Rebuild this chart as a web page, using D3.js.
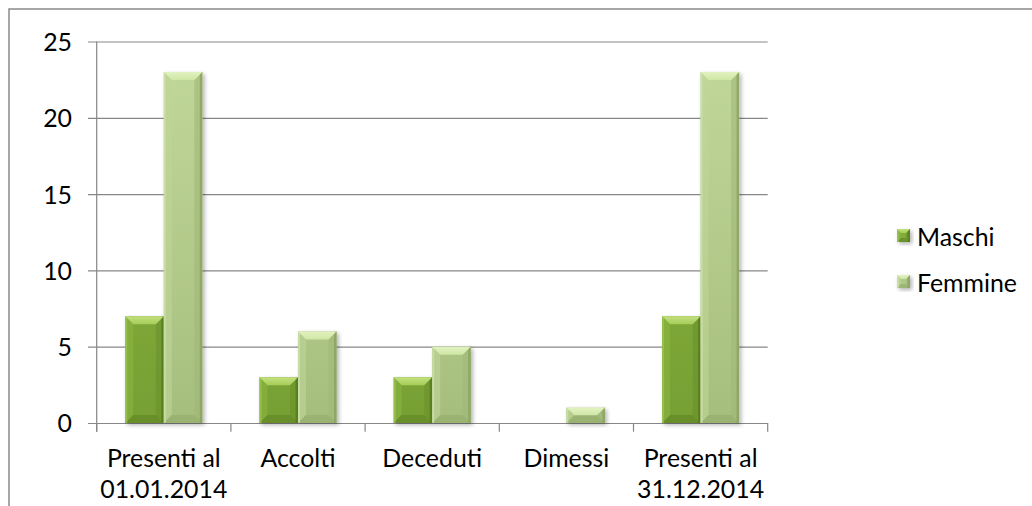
<!DOCTYPE html>
<html>
<head>
<meta charset="utf-8">
<script src="https://cdn.jsdelivr.net/npm/d3@7"></script>
<style>
  html, body { margin: 0; padding: 0; background: #fff; }
  svg { display: block; }
  text { font-family: Lato, "Open Sans", sans-serif; fill: #000; }
</style>
</head>
<body>
<svg id="chart" width="1032" height="506"></svg>
<script>
// ---- data ----
const categories = [["Presenti al", "01.01.2014"], ["Accolti"], ["Deceduti"], ["Dimessi"], ["Presenti al", "31.12.2014"]];
const seriesNames = ["Maschi", "Femmine"];
const maschi = [7, 3, 3, 0, 7];
const femmine = [23, 6, 5, 1, 23];
const yTicks = [0, 5, 10, 15, 20, 25];

const palettes = {
  Maschi:  { faceTop: "#8cb842", faceBot: "#76a033", top1: "#a6cd58", top2: "#c3e07f", bottom: "#628728",
             left: "#8ab540", right: "#6b912d", edgeL: "#9cc652", edgeR: "#577d1f" },
  Femmine: { faceTop: "#c1d89b", faceBot: "#a6be7d", top1: "#cfe6a6", top2: "#e2f2c0", bottom: "#95ae6d",
             left: "#bfd699", right: "#a0b878", edgeL: "#cde3aa", edgeR: "#8aa262" }
};

const svg = d3.select("#chart");

// font size fitted to the reference text width ("Femmine" ~ 100px)
const probe = svg.append("text").attr("font-size", 100).text("Femmine");
const fs = 100 * 100 / probe.node().getComputedTextLength();
probe.remove();

// outer chart border
svg.append("rect").attr("x", 9).attr("y", 9).attr("width", 1060).attr("height", 540)
  .attr("fill", "none").attr("stroke", "#898989").attr("stroke-width", 1.5);

const plotL = 96.7, plotR = 767.7, plotT = 41.5, plotB = 423;

const y = d3.scaleLinear().domain([0, 25]).range([plotB, plotT]);
const x0 = d3.scaleBand().domain(d3.range(categories.length)).range([plotL, plotR]).padding(0);
const x1 = d3.scaleBand().domain(seriesNames).range([0, x0.bandwidth()]).paddingInner(0).paddingOuter(0.743);

// gridlines + y ticks
const yAxis = d3.axisLeft(y).tickValues(yTicks).tickSize(plotR - plotL + 8.7).tickFormat(d3.format("d")).tickPadding(16);
const gy = svg.append("g").attr("transform", `translate(${plotR},0)`).call(yAxis);
gy.select(".domain").remove();
gy.selectAll(".tick line").attr("stroke", "#878787").attr("stroke-width", 1.2);
gy.selectAll(".tick text").attr("font-size", fs).attr("font-family", "Lato").attr("fill", "#000")
  .attr("dy", "0.36em");

// y axis line
svg.append("line").attr("x1", plotL).attr("x2", plotL).attr("y1", plotT).attr("y2", plotB + 8.7)
  .attr("stroke", "#878787").attr("stroke-width", 1.2);

// x axis category boundary ticks
const bounds = d3.range(categories.length + 1).map(i => i === categories.length ? plotR : x0(i));
svg.append("g").selectAll("line").data(bounds).join("line")
  .attr("x1", d => d).attr("x2", d => d).attr("y1", plotB).attr("y2", plotB + 8.7)
  .attr("stroke", "#878787").attr("stroke-width", 1.2);

// x labels
const xl = svg.append("g").selectAll("text").data(categories).join("text")
  .attr("text-anchor", "middle").attr("font-size", fs)
  .attr("x", (d, i) => x0(i) + x0.bandwidth() / 2).attr("y", 467);
xl.selectAll("tspan").data(d => d).join("tspan")
  .attr("x", function() { return this.parentNode.getAttribute("x"); })
  .attr("dy", (d, i) => i === 0 ? 0 : 31).text(d => d);

// defs: shadow + gradients
const defs = svg.append("defs");
const f = defs.append("filter").attr("id", "sh").attr("x", "-30%").attr("y", "-30%").attr("width", "160%").attr("height", "160%");
f.append("feGaussianBlur").attr("in", "SourceAlpha").attr("stdDeviation", 2.2);
f.append("feOffset").attr("dx", 1.5).attr("dy", 1.5).attr("result", "b");
f.append("feComponentTransfer").append("feFuncA").attr("type", "linear").attr("slope", 0.3);
const fm = f.append("feMerge");
fm.append("feMergeNode");
fm.append("feMergeNode").attr("in", "SourceGraphic");

seriesNames.forEach(name => {
  const p = palettes[name];
  const g = defs.append("linearGradient").attr("id", "face-" + name)
    .attr("gradientUnits", "userSpaceOnUse").attr("x1", 0).attr("x2", 0).attr("y1", plotT).attr("y2", plotB);
  g.append("stop").attr("offset", 0).attr("stop-color", p.faceTop);
  g.append("stop").attr("offset", 1).attr("stop-color", p.faceBot);
  const t = defs.append("linearGradient").attr("id", "top-" + name)
    .attr("x1", 0).attr("x2", 0).attr("y1", 1).attr("y2", 0);
  t.append("stop").attr("offset", 0).attr("stop-color", p.top1);
  t.append("stop").attr("offset", 1).attr("stop-color", p.top2);
});

function bevelBar(g, bx, by, bw, bh, name, bevTop, bevSide) {
  if (bh <= 0) return;
  const pal = palettes[name];
  const b = Math.min(bevTop, bh / 2);
  const s = Math.min(bevSide, bw / 2);
  const x2 = bx + bw, y2 = by + bh;
  const grp = g.append("g").attr("filter", "url(#sh)");
  grp.append("rect").attr("x", bx).attr("y", by).attr("width", bw).attr("height", bh).attr("fill", `url(#face-${name})`);
  const poly = (pts, c) => grp.append("polygon").attr("points", pts.map(p => p.join(",")).join(" ")).attr("fill", c);
  poly([[bx, by], [bx + s, by + b], [bx + s, y2 - b], [bx, y2]], pal.left).attr("opacity", 0.6);
  poly([[x2, by], [x2 - s, by + b], [x2 - s, y2 - b], [x2, y2]], pal.right).attr("opacity", 0.6);
  poly([[bx, y2], [x2, y2], [x2 - s, y2 - b], [bx + s, y2 - b]], pal.bottom).attr("opacity", 0.7);
  // thin edges
  grp.append("rect").attr("x", bx).attr("y", by).attr("width", Math.min(2, bw / 4)).attr("height", bh).attr("fill", pal.edgeL).attr("opacity", 0.7);
  grp.append("rect").attr("x", x2 - Math.min(2.5, bw / 4)).attr("y", by).attr("width", Math.min(2.5, bw / 4)).attr("height", bh).attr("fill", pal.edgeR).attr("opacity", 0.8);
  poly([[bx, by], [x2, by], [x2 - s, by + b], [bx + s, by + b]], `url(#top-${name})`);
}

const barsG = svg.append("g");
const seriesData = { Maschi: maschi, Femmine: femmine };
seriesNames.forEach(name => {
  seriesData[name].forEach((v, i) => {
    const bx = x0(i) + x1(name);
    bevelBar(barsG, bx, y(v), x1.bandwidth(), y(0) - y(v), name, 8, 8);
  });
});

// legend
const leg = svg.append("g");
seriesNames.forEach((name, i) => {
  const ly = 246 + i * 46;
  bevelBar(leg, 897, ly - 17, 13, 13, name, 4, 4);
  leg.append("text").attr("x", 917).attr("y", ly).attr("font-size", fs).text(name);
});
</script>
</body>
</html>
